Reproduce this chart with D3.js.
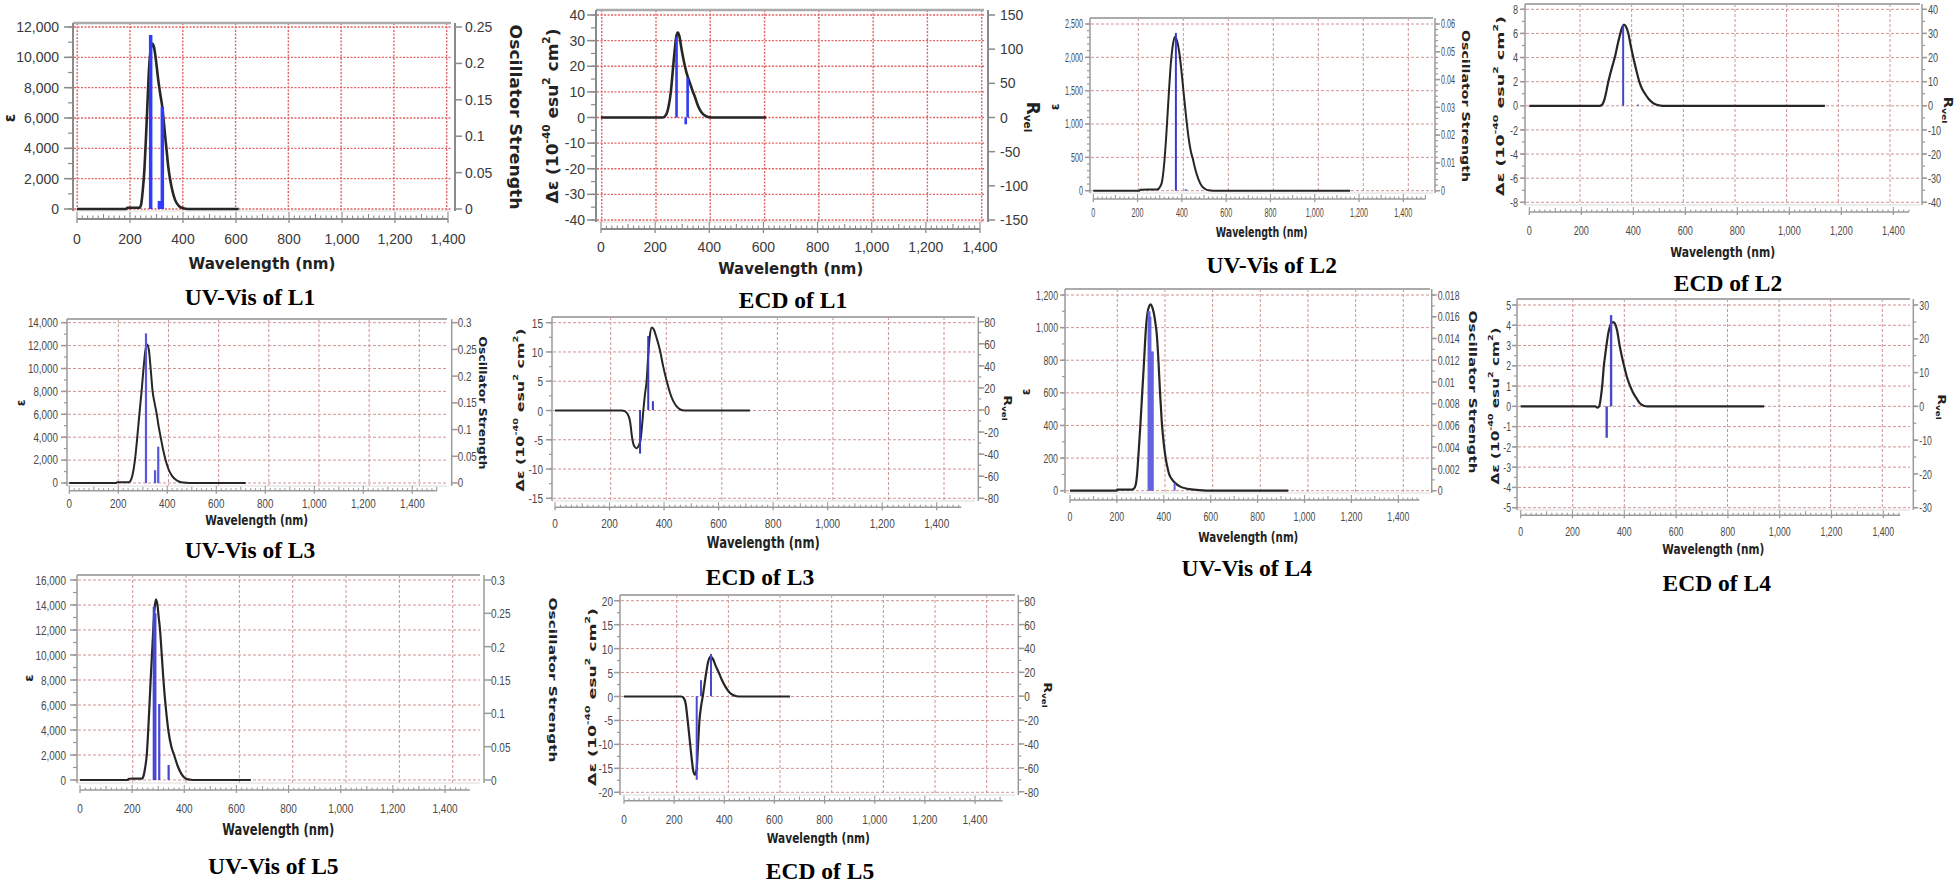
<!DOCTYPE html>
<html><head><meta charset="utf-8">
<script src="https://cdn.jsdelivr.net/npm/d3@7"></script>
<style>body{margin:0;background:#fff;} svg{display:block}</style>
</head><body><svg id="c" width="1960" height="886"></svg>
<script>
// ================= DATA =================
const wavelengthTicks = [0, 200, 400, 600, 800, 1000, 1200, 1400];
const gridWavelengths = [200, 400, 600, 800, 1000, 1200, 1400];

// --- L1 ---
const uvL1Curve = [[0,0],[185,0],[190,80],[236,90],[242,300],[248,1200],[254,2500],[260,4600],[266,7000],[272,9300],[279,10600],[285,10900],[291,10650],[298,9800],[306,8600],[314,7600],[322,6700],[330,5300],[338,3900],[345,2700],[351,2000],[360,1200],[370,600],[382,250],[395,80],[410,20],[430,0],[610,0]];
const uvL1Sticks = [[278,0.239],[311,0.011],[322,0.14]];
const uvL1EpsTicks = [0,2000,4000,6000,8000,10000,12000];
const uvL1OscTicks = [0,0.05,0.1,0.15,0.2,0.25];

const ecdL1Curve = [[0,0],[229,0],[240,1],[250,4.5],[258,10],[265,18],[272,26],[278,31.5],[284,33.2],[290,31.5],[297,27],[304,23],[310,20],[320,16],[329,13.3],[338,10.5],[347,8],[356,5.2],[366,2.9],[378,1.2],[395,0.2],[410,0],[610,0]];
const ecdL1Sticks = [[279,118],[313,-10],[320,58]];
const ecdL1DeTicks = [-40,-30,-20,-10,0,10,20,30,40];
const ecdL1RTicks = [-150,-100,-50,0,50,100,150];

// --- L2 ---
const uvL2Curve = [[0,0],[208,0],[212,15],[288,18],[300,50],[310,130],[320,400],[330,850],[340,1400],[350,1900],[360,2200],[369,2310],[378,2250],[388,2080],[398,1800],[410,1400],[420,1080],[430,800],[440,600],[450,470],[460,330],[475,170],[490,70],[505,25],[520,6],[540,0],[1160,0]];
const uvL2Sticks = [[373,0.0568],[417,0.0005]];
const uvL2EpsTicks = [0,500,1000,1500,2000,2500];
const uvL2OscTicks = [0,0.01,0.02,0.03,0.04,0.05,0.06];

const ecdL2Curve = [[0,0],[270,0],[280,0.1],[290,0.6],[304,2.0],[317,3.1],[330,4.1],[340,5.1],[349,5.9],[357,6.5],[364,6.74],[372,6.55],[381,6.0],[390,5.0],[400,4.0],[411,3.0],[423,2.0],[434,1.4],[445,1.0],[460,0.55],[475,0.25],[490,0.08],[505,0.02],[520,0],[1137,0]];
const ecdL2Sticks = [[361,33.3],[418,0.5]];
const ecdL2DeTicks = [-8,-6,-4,-2,0,2,4,6,8];
const ecdL2RTicks = [-40,-30,-20,-10,0,10,20,30,40];

// --- L3 ---
const uvL3Curve = [[0,0],[190,0],[195,60],[243,70],[250,200],[258,700],[268,2000],[277,3900],[286,6000],[295,8000],[303,10000],[310,11500],[318,12100],[325,11600],[332,10000],[340,8000],[348,7000],[357,6000],[365,4900],[373,4000],[383,2900],[393,2000],[405,1200],[420,600],[435,280],[450,110],[465,40],[490,10],[720,0]];
const uvL3Sticks = [[313,0.28],[350,0.024],[363,0.068]];
const uvL3EpsTicks = [0,2000,4000,6000,8000,10000,12000,14000];
const uvL3OscTicks = [0,0.05,0.1,0.15,0.2,0.25,0.3];

const ecdL3Curve = [[0,0],[245,0],[255,-0.1],[265,-0.5],[275,-1.8],[284,-5],[292,-6.2],[300,-6.46],[307,-6.0],[314,-5.0],[320,-2.2],[324,0],[330,2.8],[336,5],[342,9.5],[348,12.8],[355,14.2],[363,13.8],[372,12.5],[385,10.3],[397,7.5],[410,5.0],[422,3.0],[434,1.6],[446,0.7],[459,0.2],[475,0],[715,0]];
const ecdL3Sticks = [[312,-39.5],[342,67],[359,8]];
const ecdL3DeTicks = [-15,-10,-5,0,5,10,15];
const ecdL3RTicks = [-80,-60,-40,-20,0,20,40,60,80];

// --- L4 ---
const uvL4Curve = [[0,0],[198,0],[201,6],[265,7],[272,12],[280,35],[286,100],[291,200],[300,400],[308,600],[316,800],[324,1000],[333,1110],[344,1143],[352,1120],[358,1085],[364,1030],[370,960],[377,800],[384,600],[391,430],[399,300],[408,200],[416,140],[423,100],[435,70],[450,45],[470,25],[500,12],[550,4],[600,0],[931,0]];
const uvL4Sticks = [[335,0.0165],[339,0.0165],[343,0.016],[349,0.0128],[353,0.0128],[446,0.0007]];
const uvL4EpsTicks = [0,200,400,600,800,1000,1200];
const uvL4OscTicks = [0,0.002,0.004,0.006,0.008,0.01,0.012,0.014,0.016,0.018];

const ecdL4Curve = [[0,0],[288,0],[296,-0.06],[303,0],[310,0.5],[316,1.2],[321,2.0],[326,2.5],[331,3.0],[338,3.6],[346,4.0],[352,4.13],[358,4.16],[365,4.05],[372,3.75],[382,3.0],[390,2.5],[399,2.0],[410,1.45],[421,1.05],[433,0.7],[447,0.4],[460,0.15],[475,0.03],[490,0],[940,0]];
const ecdL4Sticks = [[332,-9.3],[349,27],[437,0.3]];
const ecdL4DeTicks = [-5,-4,-3,-2,-1,0,1,2,3,4,5];
const ecdL4RTicks = [-30,-20,-10,0,10,20,30];

// --- L5 ---
const uvL5Curve = [[0,0],[183,0],[187,100],[238,110],[244,350],[250,1000],[256,2000],[263,4500],[271,8000],[276,10000],[281,12000],[286,13700],[291.5,14450],[297,14000],[302,13000],[307,12000],[313,10200],[320,8000],[330,5600],[340,3800],[350,2700],[361,2000],[375,1100],[390,450],[400,200],[409,80],[425,20],[440,0],[655,0]];
const uvL5Sticks = [[283,0.26],[289,0.25],[304,0.114],[340,0.0225]];
const uvL5EpsTicks = [0,2000,4000,6000,8000,10000,12000,14000,16000];
const uvL5OscTicks = [0,0.05,0.1,0.15,0.2,0.25,0.3];

const ecdL5Curve = [[0,0],[228,0],[238,-0.3],[246,-1.5],[254,-5],[262,-9],[270,-13],[277,-15.7],[283,-16.3],[289,-15.5],[295,-10.5],[301,-5],[307,-2.2],[314,0],[321,2.5],[328,5],[336,7.3],[346,8.35],[355,7.8],[365,6.5],[378,5],[390,3.5],[405,2],[420,0.9],[435,0.3],[450,0.05],[465,0],[662,0]];
const ecdL5Sticks = [[290,-70],[307,13.4],[347,35.4]];
const ecdL5DeTicks = [-20,-15,-10,-5,0,5,10,15,20];
const ecdL5RTicks = [-80,-60,-40,-20,0,20,40,60,80];

const titles = ["UV-Vis of L1","ECD of L1","UV-Vis of L2","ECD of L2","UV-Vis of L3","ECD of L3","UV-Vis of L4","ECD of L4","UV-Vis of L5","ECD of L5"];

// ================= LAYOUT =================
const panels = [
 {curve:uvL1Curve, sticks:uvL1Sticks, lt:uvL1EpsTicks, rt:uvL1OscTicks, lMinor:1000, rMinor:null,
  box:[73,451,23,211], xr:[77,448], gridR:[130,446.7], grid0:true, xMax:1400, xAxisY:219, xLabY:239,
  yLdom:[0,12000], yLr:[209,27], yRdom:[0,0.25], yRr:[209,27], axL:73, axR:455,
  tfs:14, tsx:1, tick:9, mtick:5, gap:14, rgap:8, big:true,
  xlab:[262,263,147,16], title:[titles[0],250,297],
  yLab:{type:'eps',x:10,y:118,fs:15}, yRLab:{type:'osc',x:515,y:117,len:185,fs:16,sx:1},
  stickW:3.5, stickCol:"#2f3cff", curveW:2.6},
 {curve:ecdL1Curve, sticks:ecdL1Sticks, lt:ecdL1DeTicks, rt:ecdL1RTicks, lMinor:5, rMinor:null,
  box:[596,984,10,222], xr:[601,980], gridR:[656,981.7], grid0:true, xMax:1400, xAxisY:229, xLabY:247,
  yLdom:[-40,40], yLr:[220,15], yRdom:[-150,150], yRr:[220,15], axL:596, axR:988,
  tfs:14, tsx:1, tick:9, mtick:5, gap:11, rgap:10, big:true,
  xlab:[790.7,268,145,16], title:[titles[1],793,300],
  yLab:{type:'de',x:552,y:116,len:175,fs:16,sx:1}, yRLab:{type:'rvel',x:1033,y:117,fs:17,sx:1},
  stickW:2.6, stickCol:"#2f3cf0", curveW:2.6},
 {curve:uvL2Curve, sticks:uvL2Sticks, lt:uvL2EpsTicks, rt:uvL2OscTicks, lMinor:100, rMinor:0.002,
  box:[1090,1433,18,193], xr:[1093.3,1403.3], gridR:[1138.3,1408.3], xMax:1500, xAxisY:199, xLabY:213,
  yLdom:[0,2500], yLr:[190.7,24], yRdom:[0,0.06], yRr:[190.7,24], axL:1090, axR:1435,
  tfs:12, tsx:0.6, tick:5, mtick:3, gap:7, rgap:6,
  xlab:[1261.7,231.7,92,14], title:[titles[2],1271.7,265],
  yLab:{type:'eps',x:1055,y:107,fs:12}, yRLab:{type:'osc',x:1465,y:106,len:152,fs:14,sx:0.7},
  stickW:2, stickCol:"#3a3ad0", curveW:2},
 {curve:ecdL2Curve, sticks:ecdL2Sticks, lt:ecdL2DeTicks, rt:ecdL2RTicks, lMinor:1, rMinor:5,
  box:[1525,1920,4,205], xr:[1529.3,1893.3], gridR:[1580,1890], xMax:1460, xAxisY:212, xLabY:230,
  yLdom:[-8,8], yLr:[202.3,9.3], yRdom:[-40,40], yRr:[202.3,9.3], axL:1525, axR:1922,
  tfs:13, tsx:0.7, tick:5, mtick:3, gap:7, rgap:6,
  xlab:[1722.7,251.7,105,14], title:[titles[3],1728,283.3],
  yLab:{type:'de',x:1500,y:106,len:180,fs:15,sx:0.75}, yRLab:{type:'rvel',x:1948,y:110,fs:15,sx:0.8},
  stickW:2, stickCol:"#4646c8", curveW:2.2},
 {curve:uvL3Curve, sticks:uvL3Sticks, lt:uvL3EpsTicks, rt:uvL3OscTicks, lMinor:1000, rMinor:null,
  box:[67,447,319,486], xr:[69.3,412.3], gridR:[118.3,419.3], xMax:1500, xAxisY:490.7, xLabY:503.3,
  yLdom:[0,14000], yLr:[483,322.7], yRdom:[0,0.3], yRr:[483,322.7], axL:67, axR:451.7,
  tfs:12, tsx:0.82, tick:6, mtick:3, gap:9, rgap:6,
  xlab:[256.7,520,103,14], title:[titles[4],250,550],
  yLab:{type:'eps',x:21,y:403,fs:12}, yRLab:{type:'osc',x:482,y:403,len:133,fs:13,sx:0.75},
  stickW:2.2, stickCol:"#5656e0", curveW:2},
 {curve:ecdL3Curve, sticks:ecdL3Sticks, lt:ecdL3DeTicks, rt:ecdL3RTicks, lMinor:2.5, rMinor:10,
  box:[552,975,317,501], xr:[555,936.7], gridR:[610.7,944], xMax:1490, xAxisY:507.3, xLabY:522.7,
  yLdom:[-15,15], yLr:[498.3,322.7], yRdom:[-80,80], yRr:[498.3,321.7], axL:552, axR:978.3,
  tfs:13, tsx:0.77, tick:6, mtick:3, gap:9, rgap:6,
  xlab:[763.3,542.7,113,15], title:[titles[5],760,577],
  yLab:{type:'de',x:520,y:410,len:163,fs:14,sx:0.8}, yRLab:{type:'rvel',x:1008,y:408,fs:14,sx:0.8},
  stickW:2, stickCol:"#3a3ab8", curveW:2},
 {curve:uvL4Curve, sticks:uvL4Sticks, lt:uvL4EpsTicks, rt:uvL4OscTicks, lMinor:100, rMinor:0.001,
  box:[1065,1430,289,493], xr:[1070,1398.3], gridR:[1117.3,1403.3], xMax:1490, xAxisY:500, xLabY:516.7,
  yLdom:[0,1200], yLr:[490.7,295], yRdom:[0,0.018], yRr:[490.7,295], axL:1065, axR:1431.7,
  tfs:12, tsx:0.73, tick:5, mtick:3, gap:7, rgap:6,
  xlab:[1248.3,536.7,100,14], title:[titles[6],1246.7,568.3],
  yLab:{type:'eps',x:1026,y:392,fs:12}, yRLab:{type:'osc',x:1472,y:392,len:163,fs:14,sx:0.75},
  stickW:2, stickCol:"#6464dc", curveW:2.2},
 {curve:ecdL4Curve, sticks:ecdL4Sticks, lt:ecdL4DeTicks, rt:ecdL4RTicks, lMinor:0.5, rMinor:5,
  box:[1517,1910,299,510], xr:[1520.7,1883.3], gridR:[1572.7,1882.3], xMax:1465, xAxisY:515.3, xLabY:531.7,
  yLdom:[-5,5], yLr:[507.7,305], yRdom:[-30,30], yRr:[507.7,305], axL:1517, axR:1913.3,
  tfs:12.5, tsx:0.7, tick:5, mtick:3, gap:6, rgap:6,
  xlab:[1713.3,549.3,102,14], title:[titles[7],1716.7,582.7],
  yLab:{type:'de',x:1495,y:406,len:157,fs:14,sx:0.8}, yRLab:{type:'rvel',x:1942,y:407,fs:14,sx:0.8},
  stickW:2.4, stickCol:"#4a4ac8", curveW:2.2},
 {curve:uvL5Curve, sticks:uvL5Sticks, lt:uvL5EpsTicks, rt:uvL5OscTicks, lMinor:1000, rMinor:null,
  box:[77,480,575,783], xr:[80,445], gridR:[132.7,452.7], xMax:1496, xAxisY:790, xLabY:808.3,
  yLdom:[0,16000], yLr:[780,580], yRdom:[0,0.3], yRr:[780,580], axL:77, axR:484,
  tfs:13, tsx:0.77, tick:7, mtick:4, gap:11, rgap:7,
  xlab:[278.3,830,112,15], title:[titles[8],273.3,866],
  yLab:{type:'eps',x:28,y:678,fs:13}, yRLab:{type:'osc',x:553,y:680,len:165,fs:14,sx:0.8},
  stickW:2.2, stickCol:"#4646d0", curveW:2.2},
 {curve:ecdL5Curve, sticks:ecdL5Sticks, lt:ecdL5DeTicks, rt:ecdL5RTicks, lMinor:2.5, rMinor:10,
  box:[620,1015,595,795], xr:[624,975], gridR:[676.7,986.7], xMax:1510, xAxisY:800.7, xLabY:819.3,
  yLdom:[-20,20], yLr:[792.3,600.7], yRdom:[-80,80], yRr:[791.7,600.7], axL:620, axR:1018.3,
  tfs:13, tsx:0.77, tick:6, mtick:3, gap:7, rgap:6,
  xlab:[818.3,838.3,103,14], title:[titles[9],820,871],
  yLab:{type:'de',x:592,y:697,len:178,fs:14,sx:0.8}, yRLab:{type:'rvel',x:1048,y:695,fs:14,sx:0.8},
  stickW:2, stickCol:"#4a4ad0", curveW:2.2}
];

// ================= RENDER =================
const svg = d3.select("#c");
const SANS = "'Liberation Sans', Arial, sans-serif";
const BOLD = "'DejaVu Sans', Verdana, sans-serif";
const SERIF = "'Liberation Serif', 'Times New Roman', serif";

function fmt(v){
  const a = Math.abs(v);
  const s = a >= 1000 ? d3.format(",")(a) : String(+a.toFixed(4));
  return (v < 0 ? "-" : "") + s;
}
function T(g, x, y, s, o){
  const t = g.append("text")
    .attr("transform", `translate(${x},${y}) scale(${o.sx||1},1) rotate(${o.rot||0})`)
    .attr("text-anchor", o.anchor || "middle")
    .attr("dominant-baseline", "central")
    .attr("font-family", o.ff || SANS)
    .attr("font-size", o.fs)
    .attr("font-weight", o.fw || "normal")
    .attr("fill", o.fill || "#333");
  if (s !== null) t.text(s);
  if (o.len) t.attr("textLength", o.len).attr("lengthAdjust", "spacingAndGlyphs");
  return t;
}
function vline(g, x, y1, y2, col, w){
  g.append("line").attr("x1",x).attr("x2",x).attr("y1",y1).attr("y2",y2).attr("stroke",col).attr("stroke-width",w);
}
function hline(g, x1, x2, y, col, w){
  g.append("line").attr("x1",x1).attr("x2",x2).attr("y1",y).attr("y2",y).attr("stroke",col).attr("stroke-width",w);
}

function drawPanel(p){
  const g = svg.append("g");
  const [bx0,bx1,by0,by1] = p.box;
  const x = d3.scaleLinear().domain([0,1400]).range(p.xr);
  const gx = d3.scaleLinear().domain([200,1400]).range(p.gridR);
  const yL = d3.scaleLinear().domain(p.yLdom).range(p.yLr);
  const yR = d3.scaleLinear().domain(p.yRdom).range(p.yRr);
  const big = !!p.big;
  const gridCol = big ? "#e26464" : "#cf9494";
  const axisCol = big ? "#8a8a8a" : "#9a9a9a";
  const labCol = big ? "#3a3a3a" : "#4a4a4a";

  // grid
  g.selectAll(null).data(p.lt).join("line")
    .attr("x1",bx0+1).attr("x2",bx1).attr("y1",d=>yL(d)).attr("y2",d=>yL(d))
    .attr("stroke",gridCol).attr("stroke-width",big?1.4:1).attr("stroke-dasharray",big?"2,1.5":"3,2");
  const gxv = p.grid0 ? [0].concat(gridWavelengths) : gridWavelengths;
  g.selectAll(null).data(gxv).join("line")
    .attr("x1",d=>gx(d)).attr("x2",d=>gx(d)).attr("y1",by0).attr("y2",by1)
    .attr("stroke",gridCol).attr("stroke-width",big?1.4:1).attr("stroke-dasharray",big?"2,1.5":"3,2");

  // frame
  hline(g, bx0, bx1, by0, "#ababab", big?2.5:2);
  hline(g, bx0, bx1, by1, "#dcdcdc", 1);

  // curve
  const line = d3.line().x(d=>x(d[0])).y(d=>yL(d[1])).curve(d3.curveMonotoneX);
  g.append("path").datum(p.curve).attr("d",line).attr("fill","none")
    .attr("stroke","#262626").attr("stroke-width",p.curveW).attr("stroke-linejoin","round");

  // sticks
  g.selectAll(null).data(p.sticks).join("line")
    .attr("x1",d=>x(d[0])).attr("x2",d=>x(d[0]))
    .attr("y1",yR(0)).attr("y2",d=>yR(d[1]))
    .attr("stroke",p.stickCol).attr("stroke-width",p.stickW);

  // left axis
  vline(g, p.axL, by0, by1, axisCol, big?2:1.5);
  if (p.lMinor){
    const mn = d3.range(p.yLdom[0], p.yLdom[1]+1e-9, p.lMinor);
    g.selectAll(null).data(mn).join("line")
      .attr("x1",p.axL-p.mtick).attr("x2",p.axL).attr("y1",d=>yL(d)).attr("y2",d=>yL(d))
      .attr("stroke",axisCol).attr("stroke-width",1.2);
  }
  g.selectAll(null).data(p.lt).join("line")
    .attr("x1",p.axL-p.tick).attr("x2",p.axL).attr("y1",d=>yL(d)).attr("y2",d=>yL(d))
    .attr("stroke",axisCol).attr("stroke-width",1.5);
  p.lt.forEach(v => T(g, p.axL-p.gap, yL(v), fmt(v), {anchor:"end", fs:p.tfs, sx:p.tsx, fill:labCol}));

  // right axis
  vline(g, p.axR, by0, by1, axisCol, big?2:1.5);
  if (p.rMinor){
    const mn = d3.range(p.yRdom[0], p.yRdom[1]+1e-9, p.rMinor);
    g.selectAll(null).data(mn).join("line")
      .attr("x1",p.axR).attr("x2",p.axR+p.mtick).attr("y1",d=>yR(d)).attr("y2",d=>yR(d))
      .attr("stroke",axisCol).attr("stroke-width",1.2);
  }
  g.selectAll(null).data(p.rt).join("line")
    .attr("x1",p.axR).attr("x2",p.axR+(big?7:p.tick)).attr("y1",d=>yR(d)).attr("y2",d=>yR(d))
    .attr("stroke",axisCol).attr("stroke-width",1.5);
  p.rt.forEach(v => T(g, p.axR+p.rgap+(big?2:0), yR(v), fmt(v), {anchor:"start", fs:p.tfs, sx:p.tsx, fill:labCol}));

  // x axis
  hline(g, x(0), x(p.xMax), p.xAxisY, axisCol, big?2:1.5);
  const minors = d3.range(0, p.xMax+1e-9, 20);
  g.selectAll(null).data(minors).join("line")
    .attr("x1",d=>x(d)).attr("x2",d=>x(d))
    .attr("y1",p.xAxisY).attr("y2",d=> p.xAxisY - (d%200===0 ? (big?7:5) : d%100===0 ? (big?5:4) : (big?3.5:2.5)))
    .attr("stroke",axisCol).attr("stroke-width",1.1);
  g.selectAll(null).data(wavelengthTicks).join("line")
    .attr("x1",d=>x(d)).attr("x2",d=>x(d)).attr("y1",p.xAxisY).attr("y2",p.xAxisY+(big?4:3))
    .attr("stroke",axisCol).attr("stroke-width",1.3);
  wavelengthTicks.forEach(v => T(g, x(v), p.xLabY, fmt(v), {fs:p.tfs, sx:p.tsx, fill:labCol}));

  // axis title
  T(g, p.xlab[0], p.xlab[1], "Wavelength (nm)", {fs:p.xlab[3], ff:BOLD, fw:"bold", len:p.xlab[2], fill:"#222"});

  // panel title
  T(g, p.title[1], p.title[2], p.title[0], {fs:23.5, ff:SERIF, fw:"bold", fill:"#000"});

  // left y label
  const L = p.yLab;
  if (L.type === 'eps'){
    T(g, L.x, L.y, "ε", {fs:L.fs, ff:BOLD, fw:"bold", rot:-90, fill:"#222"});
  } else {
    const fs = L.fs;
    const t = T(g, L.x, L.y, null, {fs:fs, ff:BOLD, fw:"bold", rot:-90, sx:L.sx, len:L.len, fill:"#222"});
    t.append("tspan").text("Δε (10");
    t.append("tspan").attr("dy", -0.38*fs).attr("font-size", 0.62*fs).text("-40");
    t.append("tspan").attr("dy", 0.38*fs).text(" esu");
    t.append("tspan").attr("dy", -0.38*fs).attr("font-size", 0.62*fs).text("2");
    t.append("tspan").attr("dy", 0.38*fs).text(" cm");
    t.append("tspan").attr("dy", -0.38*fs).attr("font-size", 0.62*fs).text("2");
    t.append("tspan").attr("dy", 0.38*fs).text(")");
  }
  // right y label
  const R = p.yRLab;
  if (R.type === 'osc'){
    T(g, R.x, R.y, "Oscillator Strength", {fs:R.fs, ff:BOLD, fw:"bold", rot:90, sx:R.sx, len:R.len, fill:"#222"});
  } else {
    const fs = R.fs;
    const t = T(g, R.x, R.y, null, {fs:fs, ff:BOLD, fw:"bold", rot:90, sx:R.sx, fill:"#222"});
    t.append("tspan").text("R");
    t.append("tspan").attr("dy", 0.3*fs).attr("font-size", 0.62*fs).text("vel");
  }
}

panels.forEach(drawPanel);
</script>
</body></html>
